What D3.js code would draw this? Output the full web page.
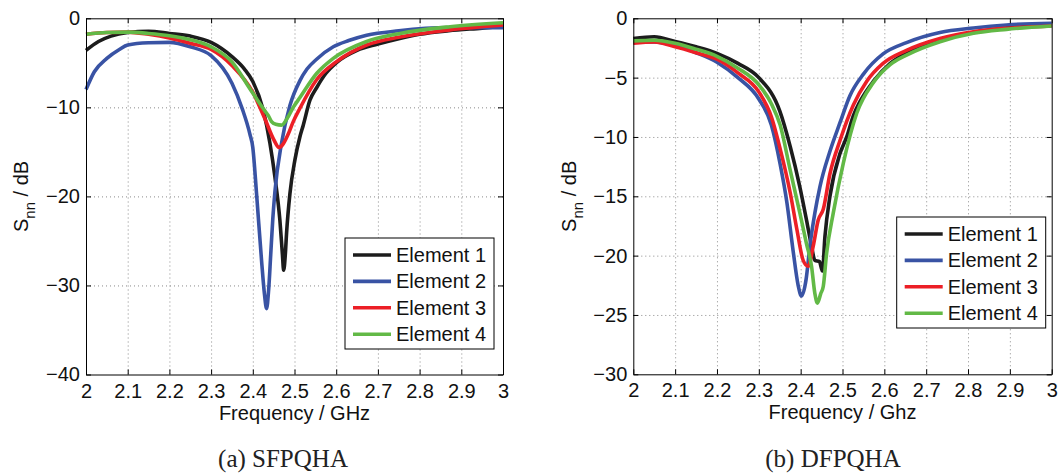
<!DOCTYPE html>
<html>
<head>
<meta charset="utf-8">
<script src="https://cdn.jsdelivr.net/npm/d3@7"></script>
<style>
  body { margin: 0; background: #fff; }
  svg { display: block; }
</style>
</head>
<body>
<svg id="chart"></svg>
<script>
// ---- data ----
const freqTicks = [2, 2.1, 2.2, 2.3, 2.4, 2.5, 2.6, 2.7, 2.8, 2.9, 3];
const sfpTicks = [0, -10, -20, -30, -40];
const dfpTicks = [0, -5, -10, -15, -20, -25, -30];
const elementNames = ["Element 1", "Element 2", "Element 3", "Element 4"];
const elementColors = ["#1c1c1c", "#3953a4", "#ec1f26", "#62b946"];

// (a) SFPQHA  [frequency GHz, S_nn dB]
const sfpElement1 = [[2.0,-3.6],[2.03,-2.6],[2.06,-2.0],[2.1,-1.6],[2.15,-1.45],[2.2,-1.7],[2.25,-2.0],[2.3,-2.7],[2.35,-4.3],[2.38,-5.7],[2.4,-7.1],[2.425,-10.3],[2.441,-14],[2.453,-17.8],[2.465,-22.7],[2.471,-26.5],[2.474,-28.3],[2.478,-26.5],[2.481,-24.1],[2.489,-19.7],[2.501,-15.9],[2.513,-13.3],[2.521,-12],[2.537,-9.2],[2.553,-7.8],[2.575,-6.2],[2.6,-5.0],[2.65,-3.6],[2.7,-2.9],[2.75,-2.3],[2.8,-1.8],[2.87,-1.4],[2.95,-1.1],[3.0,-0.9]];
const sfpElement2 = [[2.0,-8.0],[2.02,-6.0],[2.05,-4.5],[2.08,-3.5],[2.1,-3.0],[2.15,-2.75],[2.2,-2.7],[2.25,-3.2],[2.3,-4.2],[2.35,-7.3],[2.375,-10.2],[2.393,-13.0],[2.4,-14.5],[2.409,-19.7],[2.421,-27.2],[2.428,-31.0],[2.433,-32.6],[2.438,-30.5],[2.443,-26.5],[2.448,-22.5],[2.453,-19.5],[2.469,-14],[2.489,-9.8],[2.513,-7],[2.53,-5.7],[2.553,-4.6],[2.593,-3.2],[2.63,-2.5],[2.673,-1.9],[2.75,-1.4],[2.87,-1.05],[3.0,-1.05]];
const sfpElement3 = [[2.0,-1.8],[2.05,-1.6],[2.1,-1.55],[2.15,-1.8],[2.2,-2.2],[2.25,-2.8],[2.3,-3.5],[2.35,-5.3],[2.4,-8.3],[2.43,-11.4],[2.45,-13.6],[2.463,-14.5],[2.473,-14.1],[2.485,-13.0],[2.497,-11.6],[2.513,-10.1],[2.553,-6.9],[2.6,-4.9],[2.673,-3.0],[2.753,-2.1],[2.873,-1.3],[3.0,-0.75]];
const sfpElement4 = [[2.0,-1.8],[2.05,-1.6],[2.1,-1.55],[2.15,-1.7],[2.2,-1.95],[2.25,-2.4],[2.3,-3.2],[2.35,-4.9],[2.393,-7.9],[2.42,-9.8],[2.429,-10.4],[2.437,-10.9],[2.445,-11.6],[2.455,-11.9],[2.469,-12.0],[2.483,-11.2],[2.497,-10.0],[2.513,-8.9],[2.553,-6.2],[2.593,-4.5],[2.673,-2.6],[2.753,-1.7],[2.873,-0.95],[3.0,-0.5]];

// (b) DFPQHA
const dfpElement1 = [[2.0,-1.7],[2.05,-1.55],[2.1,-1.95],[2.15,-2.4],[2.2,-2.95],[2.25,-3.8],[2.3,-5.0],[2.35,-7.8],[2.375,-10.8],[2.398,-14.2],[2.414,-17.0],[2.426,-19.2],[2.434,-20.4],[2.445,-20.5],[2.452,-21.3],[2.458,-18.4],[2.47,-15.0],[2.494,-11.4],[2.51,-10.0],[2.526,-8.2],[2.542,-7.0],[2.574,-5.3],[2.614,-3.8],[2.653,-2.9],[2.733,-1.8],[2.813,-1.2],[2.892,-0.8],[3.0,-0.6]];
const dfpElement2 = [[2.0,-2.0],[2.05,-2.0],[2.1,-2.3],[2.15,-2.9],[2.2,-3.7],[2.25,-5.0],[2.3,-6.8],[2.33,-9.0],[2.351,-12.3],[2.367,-15.5],[2.382,-19.6],[2.394,-22.5],[2.402,-23.4],[2.413,-22.0],[2.422,-19.2],[2.434,-16.4],[2.446,-14.2],[2.47,-11.2],[2.494,-8.8],[2.518,-6.5],[2.55,-4.7],[2.597,-3.0],[2.653,-2.05],[2.733,-1.2],[2.813,-0.82],[2.892,-0.56],[3.0,-0.42]];
const dfpElement3 = [[2.0,-2.1],[2.05,-2.0],[2.1,-2.4],[2.15,-2.9],[2.2,-3.45],[2.25,-4.6],[2.3,-6.2],[2.33,-8.3],[2.351,-11.0],[2.375,-14.7],[2.391,-17.8],[2.406,-20.4],[2.418,-20.9],[2.43,-19.2],[2.442,-17.0],[2.454,-16.1],[2.47,-13.1],[2.494,-10.3],[2.526,-7.3],[2.558,-5.3],[2.597,-3.8],[2.653,-2.7],[2.733,-1.7],[2.813,-1.13],[2.892,-0.84],[3.0,-0.65]];
const dfpElement4 = [[2.0,-1.9],[2.05,-1.85],[2.1,-2.1],[2.15,-2.6],[2.2,-3.2],[2.25,-4.2],[2.3,-5.6],[2.33,-7.2],[2.351,-9.0],[2.375,-12.8],[2.398,-16.4],[2.414,-19.0],[2.426,-20.9],[2.434,-23.2],[2.44,-24.0],[2.448,-23.2],[2.454,-22.6],[2.462,-19.8],[2.478,-16.4],[2.502,-12.2],[2.534,-8.0],[2.574,-5.4],[2.614,-3.9],[2.653,-3.1],[2.733,-1.97],[2.813,-1.26],[2.892,-0.93],[3.0,-0.65]];

const width = 1063, height = 474;
const font = "'Liberation Sans', Arial, sans-serif";

const svg = d3.select("#chart").attr("width", width).attr("height", height);

function drawPanel(opt) {
  const g = svg.append("g");
  const x = d3.scaleLinear().domain([2, 3]).range([opt.left, opt.right]);
  const y = d3.scaleLinear().domain([opt.yMin, 0]).range([opt.bottom, opt.top]);
  const w = opt.right - opt.left, h = opt.bottom - opt.top;

  // dotted grid
  g.append("g")
    .attr("transform", `translate(0,${opt.bottom})`)
    .call(d3.axisBottom(x).tickValues(freqTicks.slice(1, -1)).tickSize(-h).tickFormat(""))
    .call(a => a.select(".domain").remove())
    .selectAll("line").attr("stroke", "#8a8a8a").attr("stroke-dasharray", "1,3");
  g.append("g")
    .attr("transform", `translate(${opt.left},0)`)
    .call(d3.axisLeft(y).tickValues(opt.yTicks.slice(1, -1)).tickSize(-w).tickFormat(""))
    .call(a => a.select(".domain").remove())
    .selectAll("line").attr("stroke", "#8a8a8a").attr("stroke-dasharray", "1,3");

  // curves
  const line = d3.line()
    .x(d => x(d[0]))
    .y(d => y(d[1]))
    .curve(d3.curveMonotoneX);
  opt.series.forEach((s, i) => {
    g.append("path")
      .datum(s)
      .attr("fill", "none")
      .attr("stroke", elementColors[i])
      .attr("stroke-width", 3.6)
      .attr("stroke-linejoin", "round")
      .attr("d", line);
  });

  // axes, MATLAB style: inward ticks on all four sides
  const fmtX = d3.format("~g");
  g.append("g")
    .attr("transform", `translate(0,${opt.bottom})`)
    .call(d3.axisBottom(x).tickValues(freqTicks).tickSizeInner(-5).tickSizeOuter(0).tickPadding(9).tickFormat(fmtX));
  g.append("g")
    .attr("transform", `translate(${opt.left},0)`)
    .call(d3.axisLeft(y).tickValues(opt.yTicks).tickSizeInner(-5).tickSizeOuter(0).tickPadding(6).tickFormat(d3.format("d")));
  g.append("g")
    .attr("transform", `translate(0,${opt.top})`)
    .call(d3.axisTop(x).tickValues(freqTicks).tickSizeInner(-5).tickSizeOuter(0).tickFormat(""));
  g.append("g")
    .attr("transform", `translate(${opt.right},0)`)
    .call(d3.axisRight(y).tickValues(opt.yTicks).tickSizeInner(-5).tickSizeOuter(0).tickFormat(""));
  g.selectAll(".domain").attr("stroke", "#000").attr("stroke-width", 1);
  g.selectAll(".tick line").filter(function () { return !this.getAttribute("stroke-dasharray"); })
    .attr("stroke", "#000");
  g.selectAll(".tick text").attr("font-family", font).attr("font-size", 20).attr("fill", "#111");

  // axis labels
  g.append("text")
    .attr("x", (opt.left + opt.right) / 2)
    .attr("y", opt.bottom + 45)
    .attr("text-anchor", "middle")
    .attr("font-family", font).attr("font-size", 20).attr("fill", "#111")
    .text(opt.xLabel);

  const yLab = g.append("text")
    .attr("transform", `translate(${opt.left - opt.yLabelGap},${(opt.top + opt.bottom) / 2}) rotate(-90)`)
    .attr("text-anchor", "middle")
    .attr("font-family", font).attr("font-size", 20).attr("fill", "#111");
  yLab.append("tspan").text("S");
  yLab.append("tspan").attr("dy", 7).attr("font-size", 15).text("nn");
  yLab.append("tspan").attr("dy", -7).text(" / dB");

  // legend
  const lg = g.append("g").attr("transform", `translate(${opt.legendX},${opt.legendY})`);
  lg.append("rect")
    .attr("width", 149).attr("height", 111)
    .attr("fill", "#fff").attr("stroke", "#000").attr("stroke-width", 1);
  elementNames.forEach((name, i) => {
    const cy = 17 + i * 26.4;
    lg.append("line")
      .attr("x1", 8).attr("x2", 46).attr("y1", cy).attr("y2", cy)
      .attr("stroke", elementColors[i]).attr("stroke-width", 3.6);
    lg.append("text")
      .attr("x", 51).attr("y", cy + 7)
      .attr("font-family", font).attr("font-size", 20).attr("fill", "#111")
      .text(name);
  });

  // caption
  svg.append("text")
    .attr("x", opt.captionX).attr("y", 467)
    .attr("text-anchor", "middle")
    .attr("font-family", "'Liberation Serif', 'DejaVu Serif', serif")
    .attr("font-size", 25).attr("fill", "#222")
    .text(opt.caption);
}

drawPanel({
  left: 86, right: 503, top: 18.3, bottom: 374.5,
  yMin: -40, yTicks: sfpTicks,
  series: [sfpElement1, sfpElement2, sfpElement3, sfpElement4],
  xLabel: "Frequency / GHz", yLabelGap: 58,
  legendX: 345, legendY: 238,
  caption: "(a) SFPQHA", captionX: 283
});

drawPanel({
  left: 633.3, right: 1051.7, top: 18.3, bottom: 374.3,
  yMin: -30, yTicks: dfpTicks,
  series: [dfpElement1, dfpElement2, dfpElement3, dfpElement4],
  xLabel: "Frequency / Ghz", yLabelGap: 57,
  legendX: 896.7, legendY: 217,
  caption: "(b) DFPQHA", captionX: 833
});
</script>
</body>
</html>
